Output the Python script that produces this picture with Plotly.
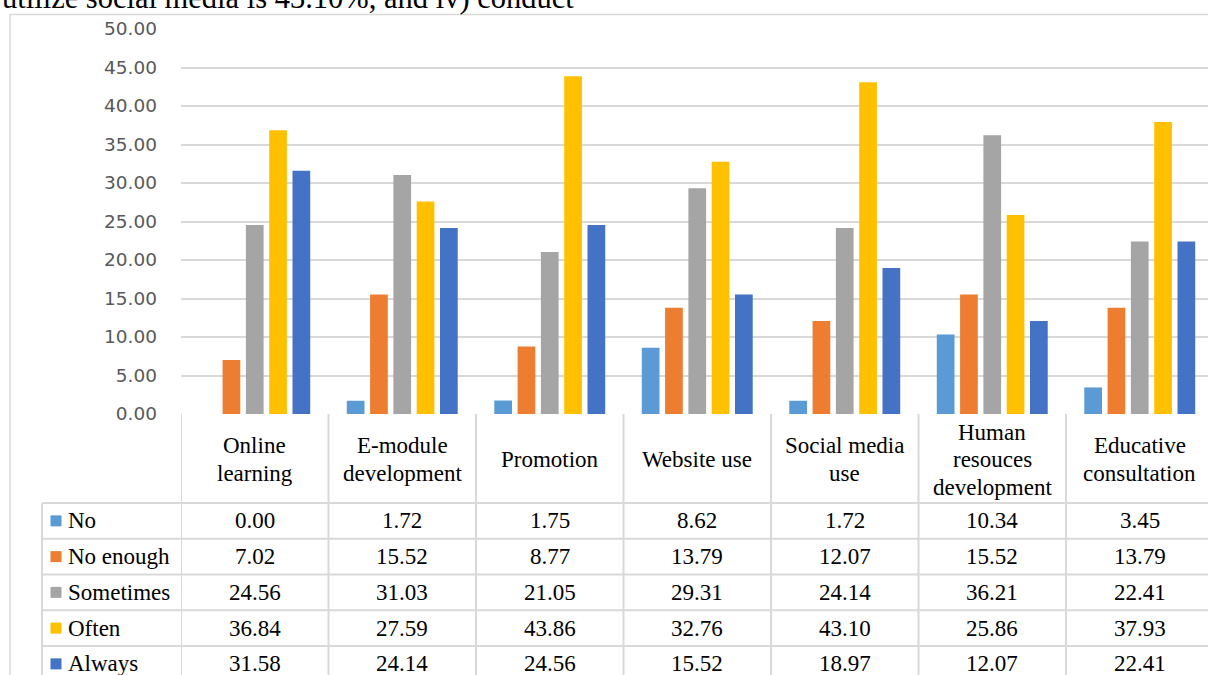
import plotly.graph_objects as go

# ---- data -------------------------------------------------------------
categories = [
    "Online learning",
    "E-module development",
    "Promotion",
    "Website use",
    "Social media use",
    "Human resouces development",
    "Educative consultation",
]
category_lines = [
    ["Online", "learning"],
    ["E-module", "development"],
    ["Promotion"],
    ["Website use"],
    ["Social media", "use"],
    ["Human", "resouces", "development"],
    ["Educative", "consultation"],
]
series_names = ["No", "No enough", "Sometimes", "Often", "Always"]
no_vals = [0.00, 1.72, 1.75, 8.62, 1.72, 10.34, 3.45]
no_enough_vals = [7.02, 15.52, 8.77, 13.79, 12.07, 15.52, 13.79]
sometimes_vals = [24.56, 31.03, 21.05, 29.31, 24.14, 36.21, 22.41]
often_vals = [36.84, 27.59, 43.86, 32.76, 43.10, 25.86, 37.93]
always_vals = [31.58, 24.14, 24.56, 15.52, 18.97, 12.07, 22.41]
series_values = [no_vals, no_enough_vals, sometimes_vals, often_vals, always_vals]
y_ticks = [0, 5, 10, 15, 20, 25, 30, 35, 40, 45, 50]
caption = "utilize social media is 43.10%, and iv) conduct"

# ---- styling ----------------------------------------------------------
colors = ["#5B9BD5", "#ED7D31", "#A5A5A5", "#FFC000", "#4472C4"]
W, H = 1208, 675
GRID = "#D9D9D9"
SERIF = "Liberation Serif, Times New Roman, serif"
TBL_SIZE = 23
CAPTION_SIZE = 30.5

plot_left, plot_top, plot_bottom = 181, 29, 414
cat_w = 147.5
table_left = 42
row_top = 503
row_h = 35.75


def px(x):
    return x / W


def py(y):
    return 1 - y / H


fig = go.Figure()
for name, vals, col in zip(series_names, series_values, colors):
    fig.add_trace(go.Bar(
        x=list(range(len(categories))), y=vals, name=name,
        marker=dict(color=col, line=dict(width=0)),
        hovertext=categories,
    ))

shapes = []
annotations = []

# outer chart frame
shapes.append(dict(type="path", xref="paper", yref="paper",
                   path=f"M {px(10)} {py(H)} L {px(10)} {py(14.5)} L {px(W)} {py(14.5)}",
                   line=dict(color=GRID, width=1.5)))

# data table: vertical rules
for i in range(len(categories)):
    shapes.append(dict(type="line", xref="x", yref="paper",
                       x0=i - 0.5, x1=i - 0.5, y0=py(plot_bottom), y1=0,
                       line=dict(color=GRID, width=2)))
shapes.append(dict(type="line", xref="paper", yref="paper",
                   x0=px(table_left), x1=px(table_left), y0=py(row_top), y1=0,
                   line=dict(color=GRID, width=2)))
# data table: horizontal rules
for r in range(len(series_names) + 1):
    yy = row_top + r * row_h
    shapes.append(dict(type="line", xref="paper", yref="paper",
                       x0=px(table_left), x1=1, y0=py(yy), y1=py(yy),
                       line=dict(color=GRID, width=2)))

# header: category names
line_pitch = 27.5
header_mid = (plot_bottom + row_top) / 2 + 1
for i, lines in enumerate(category_lines):
    n = len(lines)
    for k, txt in enumerate(lines):
        yc = header_mid + (k - (n - 1) / 2) * line_pitch
        annotations.append(dict(x=i, y=py(yc), xref="x", yref="paper",
                                text=txt, showarrow=False,
                                xanchor="center", yanchor="middle",
                                font=dict(family=SERIF, size=TBL_SIZE, color="#000")))

# rows: legend keys, series names and values
for r, (name, vals, col) in enumerate(zip(series_names, series_values, colors)):
    yc = row_top + r * row_h + row_h / 2
    shapes.append(dict(type="rect", xref="paper", yref="paper",
                       x0=px(50.5), x1=px(61.5), y0=py(yc - 5.5), y1=py(yc + 5.5),
                       fillcolor=col, line=dict(width=0)))
    annotations.append(dict(x=px(66), y=py(yc), xref="paper", yref="paper",
                            text=name, showarrow=False,
                            xanchor="left", yanchor="middle",
                            font=dict(family=SERIF, size=TBL_SIZE, color="#000")))
    for i, v in enumerate(vals):
        annotations.append(dict(x=i, y=py(yc), xref="x", yref="paper",
                                text=f"{v:.2f}", showarrow=False,
                                xanchor="center", yanchor="middle",
                                font=dict(family=SERIF, size=TBL_SIZE, color="#000")))

# running text above the chart
annotations.append(dict(x=0, y=py(17.5), xref="paper", yref="paper",
                        text=caption, showarrow=False,
                        xanchor="left", yanchor="bottom",
                        font=dict(family=SERIF, size=CAPTION_SIZE, color="#000")))

fig.update_layout(
    width=W, height=H,
    margin=dict(l=0, r=0, t=0, b=0, pad=0, autoexpand=False),
    paper_bgcolor="white", plot_bgcolor="white",
    barmode="group", bargap=0.21, bargroupgap=0.24,
    showlegend=False,
    shapes=shapes, annotations=annotations,
    xaxis=dict(domain=[px(plot_left), 1],
               range=[-0.5, -0.5 + (W - plot_left) / cat_w],
               showticklabels=False, showgrid=False, zeroline=False,
               showline=False, ticks="", automargin=False),
    yaxis=dict(domain=[py(plot_bottom), py(plot_top)],
               range=[0, 50], tickvals=y_ticks, tickformat=".2f",
               showgrid=True, gridcolor=GRID, gridwidth=2,
               zeroline=False, showline=False, ticks="",
               ticklabelstandoff=23, automargin=False,
               tickfont=dict(family="DejaVu Sans", size=18.5, color="#595959")),
)

fig.write_html("out.html")
